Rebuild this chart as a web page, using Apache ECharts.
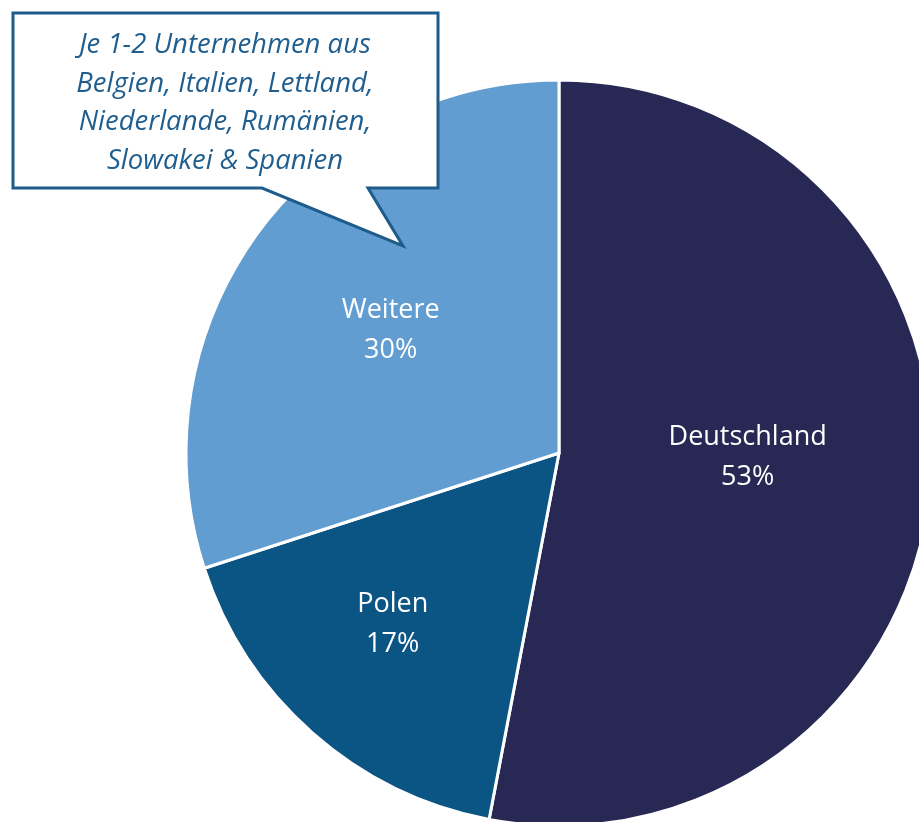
<!DOCTYPE html>
<html><head><meta charset="utf-8">
<script src="https://cdn.jsdelivr.net/npm/echarts@6/dist/echarts.min.js"></script>
<style>html,body{margin:0;padding:0;background:#fff}#c{width:919px;height:822px}</style>
</head><body><div id="c"></div>
<script>
const categories = ['Deutschland', 'Polen', 'Weitere'];
const values = [53, 17, 30];
const calloutLines = ['Je 1-2 Unternehmen aus', 'Belgien, Italien, Lettland,', 'Niederlande, Rumänien,', 'Slowakei & Spanien'];

const colors = ['#272854', '#0b5585', '#629dd1'];
const labelOffsets = [[0, -14], [-41, 29], [-15, -11]];

const chart = echarts.init(document.getElementById('c'));
chart.setOption({
  animation: false,
  series: [{
    type: 'pie',
    center: [559, 453],
    radius: [0, 373],
    startAngle: 90,
    clockwise: true,
    avoidLabelOverlap: false,
    itemStyle: { borderColor: '#fff', borderWidth: 3 },
    label: {
      show: true,
      position: 'inside',
      color: '#fff',
      fontFamily: 'Open Sans',
      fontSize: 27,
      lineHeight: 40,
      formatter: p => p.name + '\n' + p.value + '%'
    },
    labelLine: { show: false },
    emphasis: { disabled: true },
    data: categories.map((n, i) => ({
      name: n, value: values[i],
      itemStyle: { color: colors[i] },
      label: { offset: labelOffsets[i] }
    }))
  }],
  graphic: [{
    type: 'polygon',
    shape: { points: [[13, 13], [438, 13], [438, 188], [368, 188], [403, 246], [262, 188], [13, 188]] },
    style: { fill: '#fff', stroke: '#1e5c89', lineWidth: 3, lineJoin: 'miter' },
    z: 10
  }, {
    type: 'text',
    left: 225 - 200, top: 26,
    style: {
      text: calloutLines.join('\n'),
      width: 400,
      align: 'center',
      x: 200,
      textAlign: 'center',
      fill: '#1f5e8e',
      font: 'italic 27.5px "Open Sans"',
      lineHeight: 38.5
    },
    z: 11
  }]
});
</script></body></html>
